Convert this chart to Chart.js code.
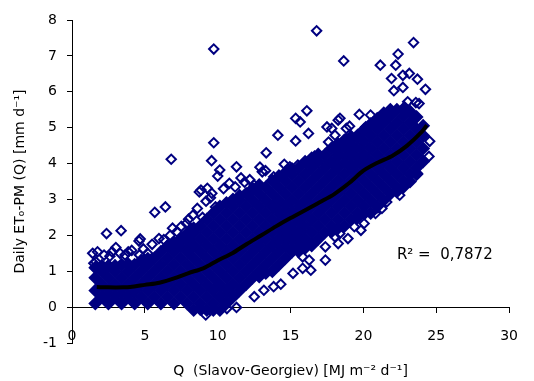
<!DOCTYPE html>
<html>
<head>
<meta charset="utf-8">
<script src="https://cdn.jsdelivr.net/npm/chart.js@4.4.1/dist/chart.umd.min.js"></script>
<style>
  html, body { margin: 0; padding: 0; background: #fff; }
  #wrap { width: 534px; height: 381px; }
</style>
</head>
<body>
<div id="wrap"><canvas id="chart" width="534" height="381"></canvas></div>
<script>
// dense core of the cloud, one column of ET values per Q value
const coreQ = [1.6, 2.05, 2.5, 2.95, 3.4, 3.85, 4.3, 4.75, 5.2, 5.65, 6.1, 6.55, 7.0, 7.45, 7.9,
    8.35, 8.8, 9.25, 9.7, 10.15, 10.6, 11.05, 11.5, 11.95, 12.4, 12.85, 13.3, 13.75, 14.2, 14.65,
    15.1, 15.55, 16.0, 16.45, 16.9, 17.35, 17.8, 18.25, 18.7, 19.15, 19.6, 20.05, 20.5, 20.95,
    21.4, 21.85, 22.3, 22.75, 23.2, 23.65, 24.1];
const coreET = [
    [0.10, 0.46, 0.82, 1.10],
    [0.28, 0.64, 1.00, 1.15],
    [0.10, 0.46, 0.82, 1.15],
    [0.28, 0.64, 1.00, 1.15],
    [0.10, 0.46, 0.82, 1.18],
    [0.28, 0.64, 1.00, 1.20],
    [0.10, 0.46, 0.82, 1.18],
    [0.28, 0.64, 1.00, 1.30],
    [0.10, 0.46, 0.82, 1.18, 1.35],
    [0.28, 0.64, 1.00, 1.36],
    [0.10, 0.46, 0.82, 1.18, 1.54],
    [0.28, 0.64, 1.00, 1.36, 1.70],
    [0.10, 0.46, 0.82, 1.18, 1.54, 1.80],
    [0.28, 0.64, 1.00, 1.36, 1.72, 1.90],
    [0.10, 0.46, 0.82, 1.18, 1.54, 1.90, 2.05],
    [-0.08, 0.28, 0.64, 1.00, 1.36, 1.72, 2.08, 2.20],
    [-0.05, 0.10, 0.46, 0.82, 1.18, 1.54, 1.90, 2.26],
    [-0.08, 0.28, 0.64, 1.00, 1.36, 1.72, 2.08, 2.44],
    [-0.08, 0.10, 0.46, 0.82, 1.18, 1.54, 1.90, 2.26, 2.62],
    [-0.08, 0.28, 0.64, 1.00, 1.36, 1.72, 2.08, 2.44, 2.80],
    [0.10, 0.46, 0.82, 1.18, 1.54, 1.90, 2.26, 2.62, 2.90],
    [0.28, 0.64, 1.00, 1.36, 1.72, 2.08, 2.44, 2.80, 3.00],
    [0.46, 0.82, 1.18, 1.54, 1.90, 2.26, 2.62, 2.98, 3.10],
    [0.64, 1.00, 1.36, 1.72, 2.08, 2.44, 2.80, 3.16],
    [0.82, 1.18, 1.54, 1.90, 2.26, 2.62, 2.98, 3.30],
    [0.85, 1.00, 1.36, 1.72, 2.08, 2.44, 2.80, 3.16, 3.40],
    [0.95, 1.18, 1.54, 1.90, 2.26, 2.62, 2.98, 3.34],
    [1.00, 1.36, 1.72, 2.08, 2.44, 2.80, 3.16, 3.52],
    [1.18, 1.54, 1.90, 2.26, 2.62, 2.98, 3.34, 3.65],
    [1.36, 1.72, 2.08, 2.44, 2.80, 3.16, 3.52, 3.75],
    [1.54, 1.90, 2.26, 2.62, 2.98, 3.34, 3.70, 3.85],
    [1.55, 1.72, 2.08, 2.44, 2.80, 3.16, 3.52, 3.88],
    [1.65, 1.90, 2.26, 2.62, 2.98, 3.34, 3.70, 4.05],
    [1.72, 2.08, 2.44, 2.80, 3.16, 3.52, 3.88, 4.15],
    [1.90, 2.26, 2.62, 2.98, 3.34, 3.70, 4.06, 4.25],
    [2.08, 2.44, 2.80, 3.16, 3.52, 3.88, 4.24],
    [2.10, 2.26, 2.62, 2.98, 3.34, 3.70, 4.06, 4.42],
    [2.20, 2.44, 2.80, 3.16, 3.52, 3.88, 4.24, 4.55],
    [2.26, 2.62, 2.98, 3.34, 3.70, 4.06, 4.42, 4.65],
    [2.44, 2.80, 3.16, 3.52, 3.88, 4.24, 4.60, 4.75],
    [2.50, 2.62, 2.98, 3.34, 3.70, 4.06, 4.42, 4.78],
    [2.60, 2.80, 3.16, 3.52, 3.88, 4.24, 4.60, 4.95],
    [2.62, 2.98, 3.34, 3.70, 4.06, 4.42, 4.78, 5.10],
    [2.80, 3.16, 3.52, 3.88, 4.24, 4.60, 4.96, 5.25],
    [2.98, 3.34, 3.70, 4.06, 4.42, 4.78, 5.14, 5.40],
    [3.16, 3.52, 3.88, 4.24, 4.60, 4.96, 5.32, 5.50],
    [3.22, 3.34, 3.70, 4.06, 4.42, 4.78, 5.14, 5.50],
    [3.35, 3.52, 3.88, 4.24, 4.60, 4.96, 5.32, 5.50],
    [3.50, 3.70, 4.06, 4.42, 4.78, 5.14, 5.45],
    [3.70, 3.88, 4.24, 4.60, 4.96, 5.30],
    [4.06, 4.42, 4.78, 5.05]
];

// scattered points around the cloud
const fringeQ = [1.42, 1.50, 1.64, 1.75, 2.20, 2.37, 2.60, 2.75, 3.01, 3.30, 3.37, 3.64, 3.86, 4.10,
    4.60, 4.68, 4.63, 4.90, 5.19, 5.50, 5.68, 5.97, 6.30, 6.41, 6.74, 6.81, 6.90, 7.19, 7.50, 7.85,
    8.00, 8.30, 8.60, 8.74, 8.85, 8.96, 9.20, 9.29, 9.50, 9.58, 9.60, 9.73, 9.73, 9.85, 10.00, 10.14,
    10.40, 10.80, 11.20, 11.29, 11.60, 11.84, 12.20, 12.50, 12.90, 13.06, 13.28, 13.33, 13.84, 14.13,
    14.57, 14.95, 15.35, 15.35, 15.50, 15.66, 16.12, 16.23, 16.65, 16.79, 17.39, 17.50, 17.61, 17.83,
    18.05, 18.27, 18.39, 18.65, 18.83, 18.83, 19.05, 19.72, 20.16, 20.49, 20.94, 21.16, 21.93, 22.09,
    22.22, 22.38, 22.71, 22.71, 22.82, 23.04, 23.15, 23.44, 23.60, 23.71, 23.82, 24.26, 24.55, 24.50,
    9.18, 10.63, 11.29, 12.51, 13.17, 13.84, 14.33, 15.17, 15.83, 15.83, 16.28, 16.39, 17.39, 17.39,
    18.05, 18.27, 18.38, 18.94, 19.38, 19.83, 20.05, 20.83, 21.27, 21.60, 22.49, 23.71];
const fringeET = [1.50, 1.22, 1.26, 1.54, 1.45, 2.05, 1.42, 1.54, 1.66, 1.50, 2.13, 1.45, 1.54, 1.58,
    1.84, 1.90, 1.45, 1.62, 1.50, 1.75, 2.64, 1.91, 1.88, 2.79, 2.00, 4.12, 2.20, 2.10, 2.25, 2.33,
    2.45, 2.56, 2.75, 3.21, 3.26, 2.50, 2.95, 3.31, 3.05, 4.08, 3.17, 4.58, 7.19, 2.79, 3.65, 3.82,
    3.30, 3.45, 3.35, 3.91, 3.60, 3.48, 3.55, 3.40, 3.90, 3.77, 3.80, 4.30, 3.63, 4.79,
    3.98, 3.91, 4.63, 5.26, 3.96, 5.16, 5.47, 4.84, 4.21, 7.70, 4.00, 5.02, 4.60, 4.98,
    4.79, 5.21, 5.26, 6.86, 4.70, 4.98, 5.04, 5.37, 5.02, 5.35, 5.16, 6.74, 6.37, 6.03,
    6.74, 7.05, 6.12, 6.46, 5.58, 5.72, 6.51, 7.37, 5.70, 6.35, 5.67, 6.07, 4.62, 4.20,
    -0.22, -0.04, -0.01, 0.29, 0.47, 0.57, 0.64, 0.94, 1.08, 1.40, 1.31, 1.03, 1.31, 1.68,
    1.96, 1.77, 2.05, 1.91, 2.24, 2.14, 2.33, 2.61, 2.75, 2.93, 3.12, 3.72];

// trend line
const trendQ = [1.7, 2.5, 3.5, 4.0, 5.0, 6.0, 7.0, 8.0, 9.0, 10.0, 11.0, 12.0, 13.0, 14.0, 15.0,
    16.0, 17.0, 18.0, 19.0, 20.0, 21.0, 22.0, 23.0, 24.0, 24.35];
const trendET = [0.56, 0.55, 0.55, 0.56, 0.62, 0.68, 0.80, 0.95, 1.08, 1.30, 1.50, 1.76, 2.00, 2.25, 2.48,
    2.70, 2.92, 3.15, 3.45, 3.80, 4.03, 4.22, 4.50, 4.88, 5.07];

const r2Text = 'R² =  0,7872';
const r2At = [22.3, 1.45];

const navy = '#000080';
const fontFamily = '"DejaVu Sans", Verdana, sans-serif';

function toPoints(xs, ys) {
    let pts = [];
    for (let i = 0; i < xs.length; i++) {
        pts.push({ x: xs[i], y: ys[i] });
    }
    return pts;
}

function corePoints() {
    let pts = [];
    for (let i = 0; i < coreQ.length; i++) {
        for (let j = 0; j < coreET[i].length; j++) {
            pts.push({ x: coreQ[i], y: coreET[i][j] });
        }
    }
    return pts;
}

const r2Plugin = {
    id: 'r2Label',
    afterDatasetsDraw(chart) {
        let ctx = chart.ctx;
        ctx.save();
        ctx.font = '15px ' + fontFamily;
        ctx.fillStyle = '#000';
        ctx.textAlign = 'left';
        ctx.textBaseline = 'middle';
        ctx.fillText(r2Text, chart.scales.x.getPixelForValue(r2At[0]), chart.scales.y.getPixelForValue(r2At[1]));
        ctx.restore();
    }
};

let tickFont = { family: fontFamily, size: 14 };

new Chart(document.getElementById('chart').getContext('2d'), {
    type: 'scatter',
    data: {
        datasets: [
            {
                type: 'line',
                data: toPoints(trendQ, trendET),
                borderColor: '#000',
                borderWidth: 4,
                pointRadius: 0,
                tension: 0.3,
                fill: false
            },
            {
                data: corePoints(),
                pointStyle: 'rectRot',
                pointRadius: 5.6,
                borderWidth: 2,
                borderColor: navy,
                backgroundColor: navy
            },
            {
                data: toPoints(fringeQ, fringeET),
                pointStyle: 'rectRot',
                pointRadius: 4.7,
                borderWidth: 2,
                borderColor: navy,
                backgroundColor: 'rgba(0,0,0,0)'
            }
        ]
    },
    options: {
        responsive: false,
        animation: false,
        devicePixelRatio: 1,
        layout: { padding: { top: 20, right: 11, bottom: 38, left: 0 } },
        plugins: {
            legend: { display: false },
            tooltip: { enabled: false }
        },
        scales: {
            x: {
                type: 'linear',
                position: { y: 0 },
                min: 0,
                max: 30,
                ticks: { stepSize: 5, padding: 16, color: '#000', font: tickFont, maxRotation: 0 },
                grid: { drawOnChartArea: false, tickLength: 5, color: '#000' },
                border: { color: '#000', width: 1 },
                title: {
                    display: true,
                    text: 'Q  (Slavov-Georgiev) [MJ m⁻² d⁻¹]',
                    color: '#000',
                    font: tickFont,
                    padding: { top: 0, bottom: -35 }
                },
                afterFit(scale) { scale.height = 38; }
            },
            y: {
                type: 'linear',
                position: 'left',
                min: -1,
                max: 8,
                ticks: { stepSize: 1, padding: 10, color: '#000', font: tickFont },
                grid: { drawOnChartArea: false, tickLength: 5, color: '#000' },
                border: { color: '#000', width: 1 },
                title: {
                    display: true,
                    text: 'Daily ETₒ-PM (Q) [mm d⁻¹]',
                    color: '#000',
                    font: tickFont,
                    padding: { top: 12, bottom: 0 }
                },
                afterFit(scale) { scale.width = 72; }
            }
        }
    },
    plugins: [r2Plugin]
});
</script>
</body>
</html>
